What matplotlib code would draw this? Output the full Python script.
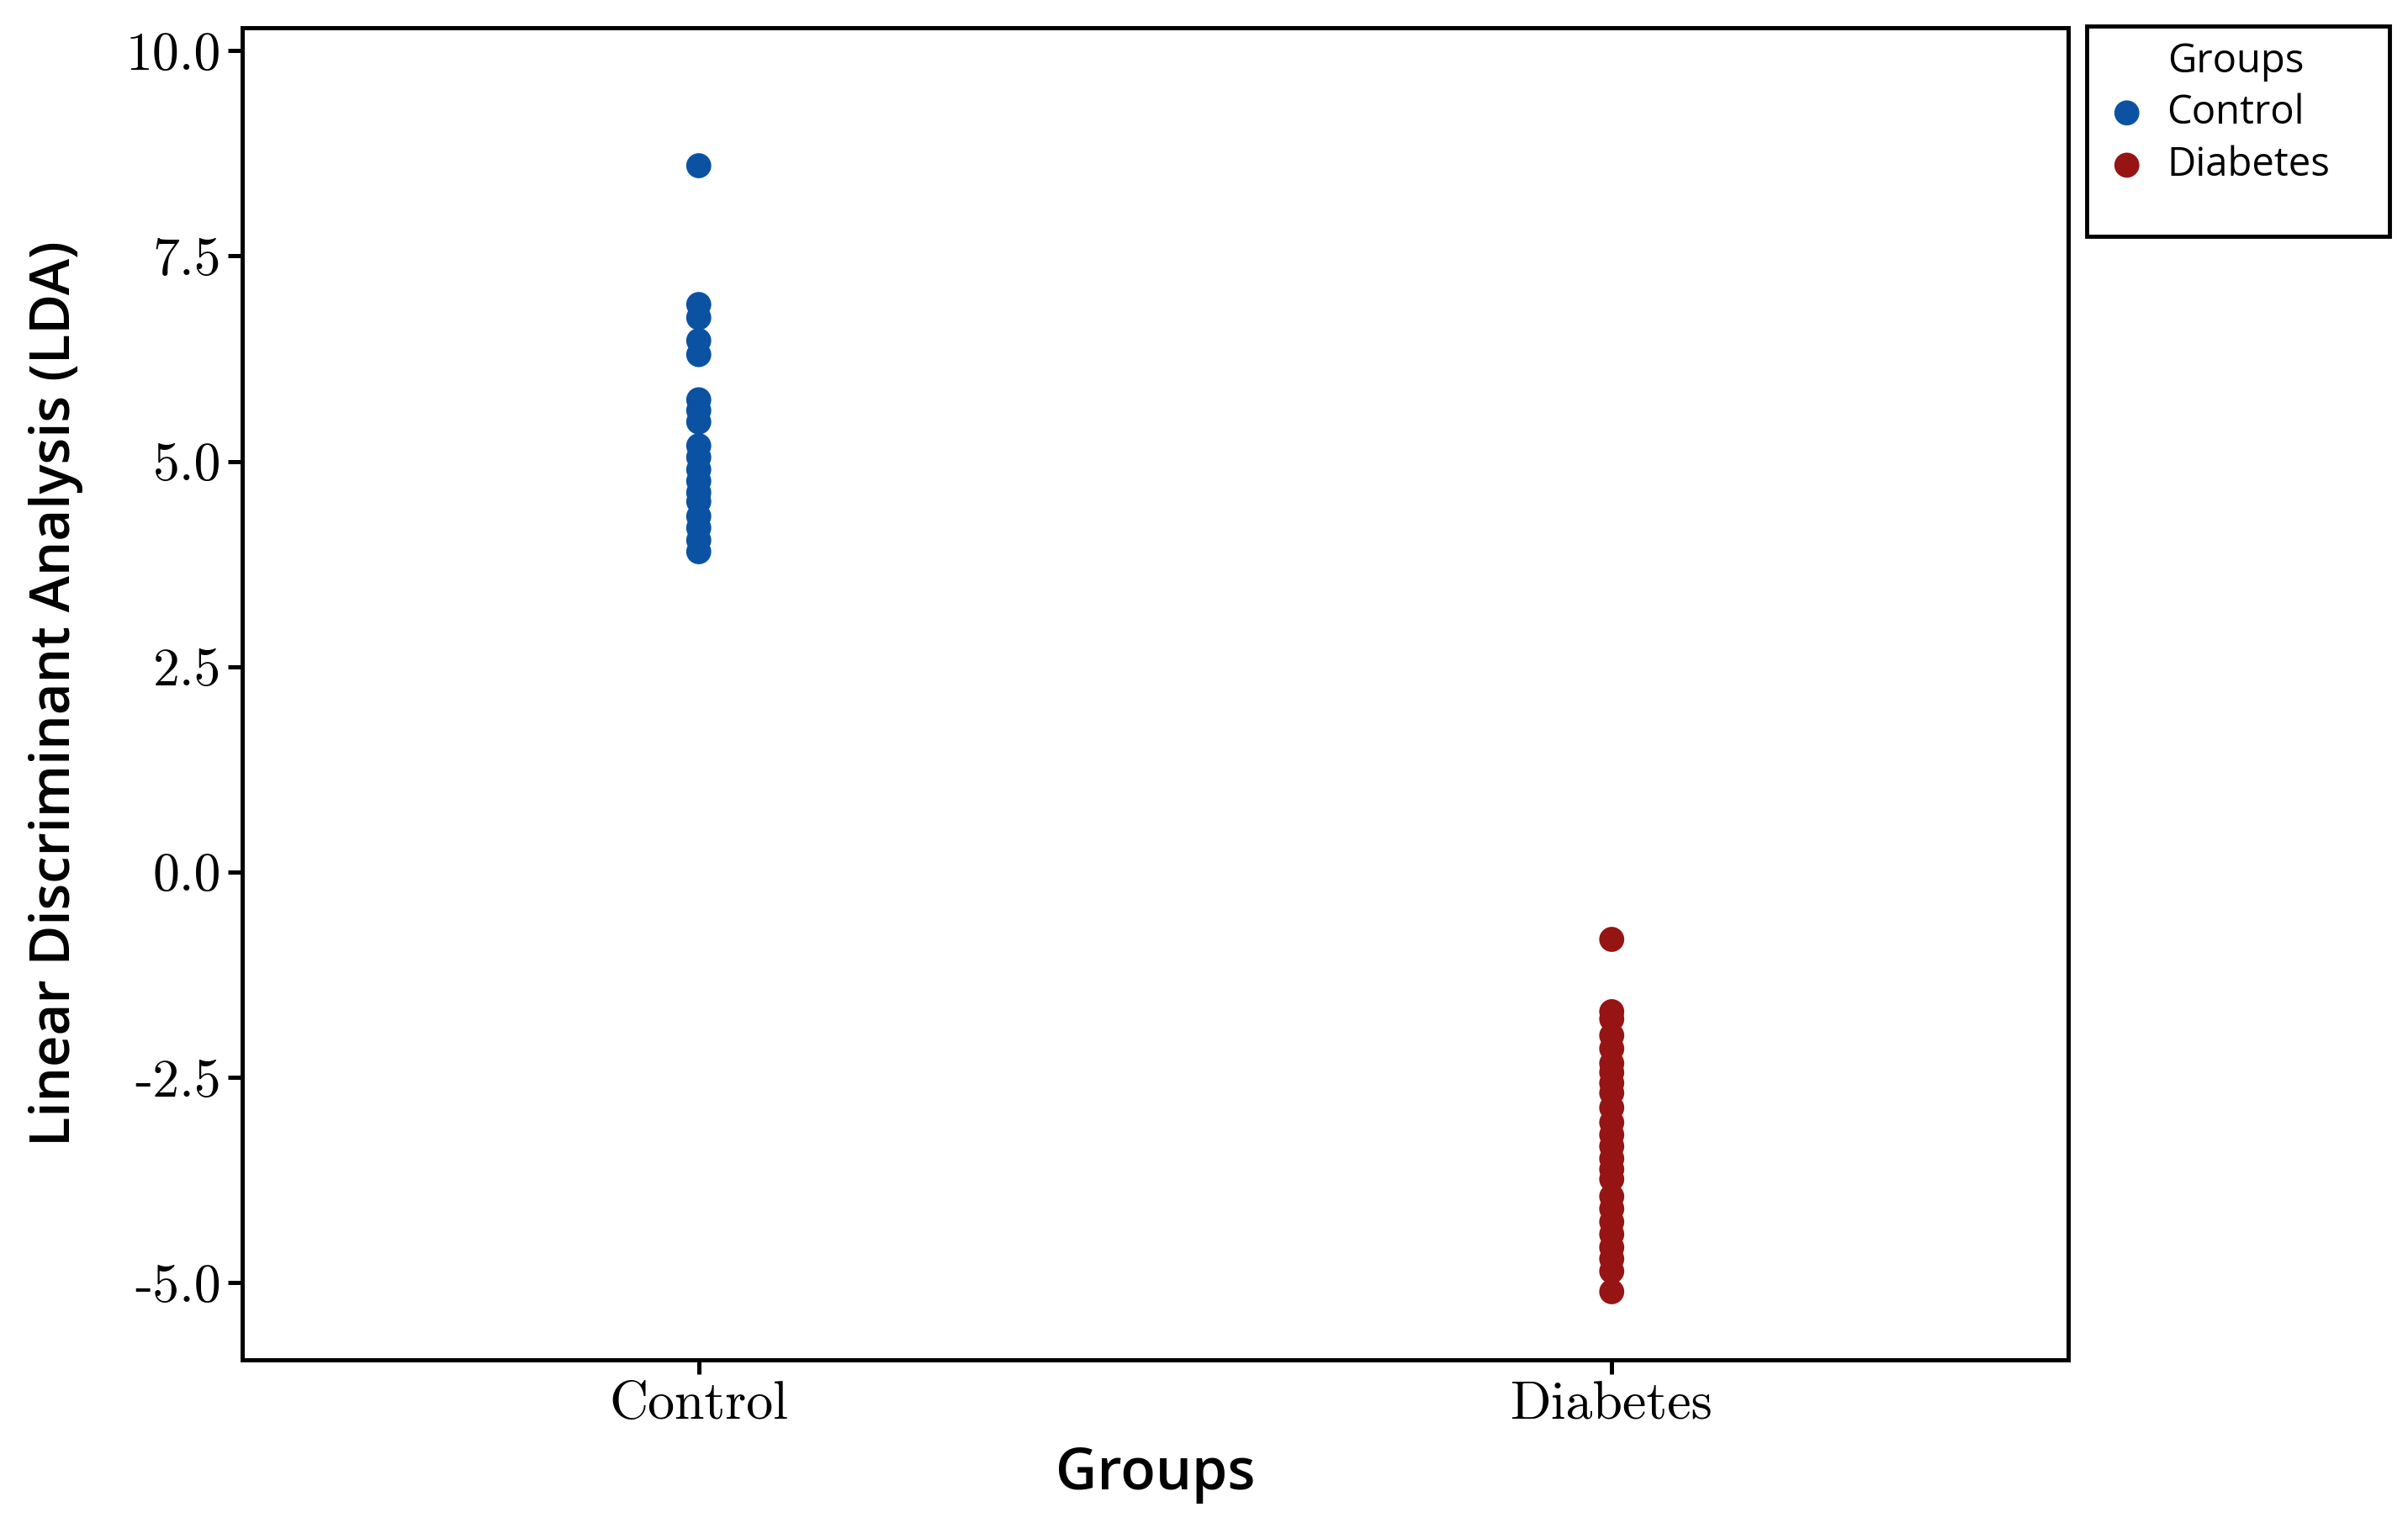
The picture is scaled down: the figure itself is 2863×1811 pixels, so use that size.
import matplotlib
matplotlib.use("Agg")
import numpy as np
import matplotlib.pyplot as plt
from matplotlib.patches import Rectangle

plt.rcParams['axes.unicode_minus'] = False

groups = ["Control", "Diabetes"]
control_lda = [8.60, 6.91, 6.75, 6.47, 6.30, 5.75, 5.62, 5.48, 5.19, 5.05,
               4.90, 4.76, 4.62, 4.51, 4.33, 4.19, 4.04, 3.90]
diabetes_lda = [-0.82, -1.70, -1.79, -1.99, -2.15, -2.33, -2.44, -2.57, -2.69, -2.87,
                -3.05, -3.20, -3.34, -3.49, -3.62, -3.74, -3.95, -4.10, -4.26, -4.41,
                -4.57, -4.71, -4.86, -5.11]
y_ticks = [-5.0, -2.5, 0.0, 2.5, 5.0, 7.5, 10.0]
y_ticklabels = ["-5.0", "-2.5", "0.0", "2.5", "5.0", "7.5", "10.0"]

colors = {"Control": "#0b52a3", "Diabetes": "#961414"}
serif = "cmr10"
sans = "Open Sans"

fig = plt.figure(figsize=(28.63, 18.11), dpi=100)
ax = fig.add_axes([0.1006, 0.1071, 0.7583, 0.8747])

for i, (name, vals) in enumerate(zip(groups, [control_lda, diabetes_lda])):
    ax.scatter(np.full(len(vals), i + 1), vals, s=460, color=colors[name],
               edgecolors="none", label=name, zorder=3)

ax.set_xlim(0.5, 2.5)
ax.set_ylim(-5.94, 10.28)
ax.set_xticks([1, 2])
ax.set_xticklabels(groups, fontfamily=serif, fontsize=46)
ax.set_yticks(y_ticks)
ax.set_yticklabels(y_ticklabels, fontfamily=serif, fontsize=46)

for sp in ax.spines.values():
    sp.set_linewidth(3.6)
    sp.set_color("black")
ax.tick_params(axis="both", length=12, width=3.6, color="black", pad=6)

ax.set_xlabel("Groups", fontfamily=sans, fontsize=49, fontweight="semibold", labelpad=14)
ax.set_ylabel("Linear Discriminant Analysis (LDA)", fontfamily=sans, fontsize=47,
              fontweight="semibold")
ax.yaxis.set_label_coords(-0.087, 0.5)

# legend: frame drawn as its own box behind the entries, like the ggplot guide
fig.patches.append(Rectangle((0.8666, 0.8448), 0.1257, 0.138, transform=fig.transFigure,
                             facecolor="white", edgecolor="black", linewidth=3.5,
                             zorder=-1))
fig.text(0.9000, 0.9597, "Groups", ha="left", va="center", fontfamily=sans,
         fontsize=34, fontweight="medium")
leg = fig.legend(*ax.get_legend_handles_labels(), loc="center left",
                 bbox_to_anchor=(0.875, 0.9089), borderaxespad=0, frameon=False,
                 prop={"family": sans, "size": 34, "weight": "medium"},
                 handletextpad=0.5, handlelength=1.0, borderpad=0, labelspacing=0.31,
                 markerscale=1.0)

fig.savefig("out.png", dpi=100)
